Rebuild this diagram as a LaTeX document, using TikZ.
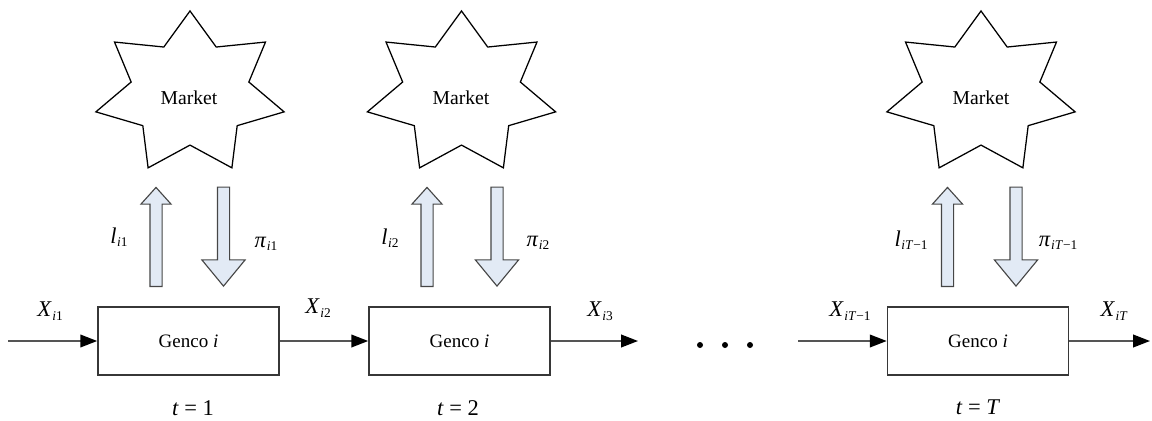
\documentclass[tikz,border=0pt]{standalone}
\usepackage{fontspec}
\setmainfont{Liberation Serif}
\usetikzlibrary{positioning, arrows.meta, shapes.geometric, shapes.arrows}
\definecolor{linegray}{RGB}{85,85,85}
\definecolor{boxgray}{RGB}{55,55,55}
\definecolor{arrfill}{RGB}{226,234,245}
\definecolor{arrbdr}{RGB}{70,70,70}
\newcommand{\sym}[2]{\textit{#1}\kern0.4pt\raisebox{-2.5pt}{\fontsize{9.5}{10}\selectfont #2}}
\tikzset{
  GB/.style={draw=boxgray,line width=1.1pt,fill=white,rectangle,minimum width=4.525cm,minimum height=1.7cm,font=\fontsize{13.5}{15}\selectfont,inner sep=0pt},
  MK/.style={draw=black,line width=0.9pt,fill=white,star,star points=7,star point ratio=1.6,minimum size=4.125cm,inner sep=0pt,xscale=1.17},
  MT/.style={font=\fontsize{14}{16}\selectfont,inner sep=0pt},
  UA/.style={single arrow,rotate=90,anchor=tail,draw=arrbdr,fill=arrfill,line width=0.8pt,inner sep=0.1375cm,minimum height=2.475cm,single arrow head extend=0.225cm,single arrow tip angle=84},
  DA/.style={single arrow,rotate=-90,anchor=tip,draw=arrbdr,fill=arrfill,line width=0.8pt,inner sep=0.1375cm,minimum height=2.475cm,single arrow head extend=0.39cm,single arrow tip angle=79},
  FL/.style={-{Triangle[length=12pt,width=9pt,color=black]},line width=1.2pt,linegray},
  LB/.style={font=\fontsize{16}{18}\selectfont,inner sep=0pt},
  dot/.style={circle,fill=black,inner sep=0pt,minimum size=0.15cm},
}

\begin{document}
\begin{tikzpicture}[x=0.025cm,y=-0.025cm]
\useasboundingbox (0,0) rectangle (1152,421);

% Markets
\node[MK](s1) at (190,93.5){};
\node[MK](s2) at (461.5,93.5){};
\node[MK](s3) at (981,93.5){};
\node[MT](s1t) at (189,98){Market};
\node[MT](s2t) at (461,98){Market};
\node[MT](s3t) at (981,98){Market};

% Gencos
\node[GB](g1) at (188.5,341){Genco \textit{i}};
\node[GB](g2) at (459.5,341){Genco \textit{i}};
\node[GB](g3) at (978,341){Genco \textit{i}};

% bids up, prices down
\node[UA](u1) at (156,287){};
\node[DA](d1) at (223.5,287){};
\node[UA](u2) at (427,287){};
\node[DA](d2) at (497,287){};
\node[UA](u3) at (947.5,287){};
\node[DA](d3) at (1016,287){};

\node[LB](lu1) at (119,237){\sym{l}{\textit{i}1}};
\node[LB](lp1) at (266,244){\sym{π}{\textit{i}1}};
\node[LB](lu2) at (390,238){\sym{l}{\textit{i}2}};
\node[LB](lp2) at (538,243){\sym{π}{\textit{i}2}};
\node[LB](lu3) at (911,240){\sym{l}{\textit{iT}−1}};
\node[LB](lp3) at (1058,243){\sym{π}{\textit{iT}−1}};

% state flow
\coordinate (in1) at (8,341);
\coordinate (out2) at (638,341);
\coordinate (in3) at (798,341);
\coordinate (out3) at (1150,341);
\draw[FL](in1)--(g1.west);
\draw[FL](g1.east)--(g2.west);
\draw[FL](g2.east)--(out2);
\draw[FL](in3)--(g3.west);
\draw[FL](g3.east)--(out3);

\node[LB](x1) at (50,311){\sym{X}{\textit{i}1}};
\node[LB](x2) at (318,308){\sym{X}{\textit{i}2}};
\node[LB](x3) at (600,311){\sym{X}{\textit{i}3}};
\node[LB](x4) at (850,311){\sym{X}{\textit{iT}−1}};
\node[LB](x5) at (1114,311){\sym{X}{\textit{iT}}};

\node[dot](dt1) at (700,345){};
\node[dot](dt2) at (725,345){};
\node[dot](dt3) at (750,345){};

% periods
\node[LB](t1) at (193,408){\textit{t} = 1};
\node[LB](t2) at (458,408){\textit{t} = 2};
\node[LB](t3) at (978,407){\textit{t} = \textit{T}};

\end{tikzpicture}
\end{document}
